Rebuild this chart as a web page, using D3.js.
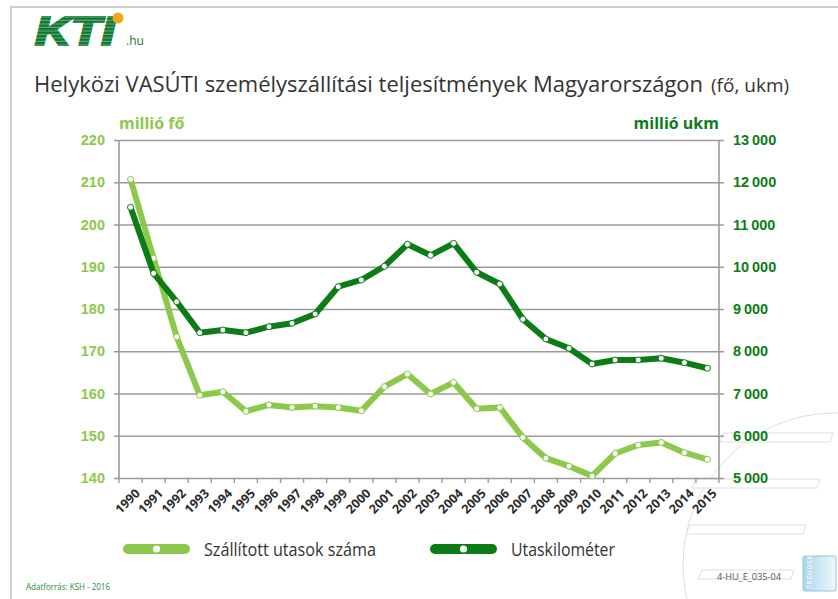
<!DOCTYPE html>
<html lang="hu">
<head>
<meta charset="UTF-8">
<title>Helyközi VASÚTI személyszállítási teljesítmények</title>
<script src="https://d3js.org/d3.v7.min.js"></script>
<style>
  body { margin: 0; background: #fff; }
  svg { display: block; }
</style>
</head>
<body>
<script>
const years = d3.range(1990, 2016).map(String);
// Szállított utasok száma, millió fő (left axis)
const passengers = [210.7, 192.0, 173.4, 159.6, 160.4, 155.8, 157.3, 156.7, 157.0, 156.7,
  155.9, 161.6, 164.6, 159.9, 162.6, 156.4, 156.7, 149.6, 144.7, 142.8,
  140.5, 145.8, 147.8, 148.4, 146.0, 144.4];
// Utaskilométer, millió ukm (right axis)
const passKm = [11407, 9845, 9173, 8440, 8503, 8440, 8581, 8662, 8882, 9528,
  9687, 10011, 10532, 10271, 10555, 9869, 9592, 8757, 8290, 8070,
  7698, 7793, 7793, 7833, 7729, 7597];
const leftTicks = [140, 150, 160, 170, 180, 190, 200, 210, 220];
const rightTicks = [5000, 6000, 7000, 8000, 9000, 10000, 11000, 12000, 13000];

const W = 838, H = 599;
const light = "#8cc84b", dark = "#0c7d16", grid = "#9a9a9a";
const m = {left: 119, right: 719, top: 140, bottom: 478};

const svg = d3.select("body").append("svg")
    .attr("width", W).attr("height", H)
    .style("font-family", "'Open Sans', sans-serif");

// frame
svg.append("path")
    .attr("d", `M11,${H} V7 H${W}`)
    .attr("fill", "none").attr("stroke", "#cfcfcf").attr("stroke-width", 2);

// faint decoration bottom right
const deco = svg.append("g").attr("fill", "none").attr("stroke", "#dedede").attr("stroke-width", 1);
deco.append("circle").attr("cx", 835).attr("cy", 565).attr("r", 152);
[[720, 433, 833], [692, 479, 820], [686, 525, 806], [698, 570, 794]].forEach(([x0, y, x1]) => {
  deco.append("path").attr("d", `M${x0 + 4},${y} H${x1} L${x1 - 3},${y + 9} H${x0} Z`).attr("fill", "#fff");
});

// logo
const defs = svg.append("defs");
const pat = defs.append("pattern").attr("id", "stripes")
    .attr("width", 4).attr("height", 3.5).attr("patternUnits", "userSpaceOnUse");
pat.append("rect").attr("width", 4).attr("height", 3.5).attr("fill", "#127534");
pat.append("rect").attr("y", 2.4).attr("width", 4).attr("height", 1).attr("fill", "#62b37c");
svg.append("text")
    .attr("x", 35).attr("y", 45)
    .attr("font-family", "'Liberation Sans', sans-serif")
    .attr("font-size", 40).attr("font-weight", 900).attr("font-style", "italic")
    .attr("textLength", 80).attr("lengthAdjust", "spacingAndGlyphs")
    .attr("fill", "url(#stripes)").attr("stroke", "url(#stripes)").attr("stroke-width", 2.2)
    .text("KTI");
svg.append("circle").attr("cx", 118).attr("cy", 18).attr("r", 5.5).attr("fill", "#f2a51e");
svg.append("text").attr("x", 126).attr("y", 45)
    .attr("font-size", 12).attr("fill", "#1a7a30").text(".hu");

// title
svg.append("text").attr("x", 34).attr("y", 92).attr("fill", "#333")
    .attr("font-size", 22)
    .text("Helyközi VASÚTI személyszállítási teljesítmények Magyarországon");
svg.append("text").attr("x", 711).attr("y", 92).attr("fill", "#333")
    .attr("font-size", 19)
    .text("(fő, ukm)");

// scales
const x = d3.scaleBand().domain(years).range([m.left, m.right]);
const yL = d3.scaleLinear().domain([140, 220]).range([m.bottom, m.top]);
const yR = d3.scaleLinear().domain([5000, 13000]).range([m.bottom, m.top]);
const cx = d => x(d) + x.bandwidth() / 2;

// gridlines + left axis
const leftAxis = svg.append("g")
    .attr("transform", `translate(${m.left},0)`)
    .call(d3.axisLeft(yL).tickValues(leftTicks).tickSize(-(m.right - m.left)).tickPadding(14));
leftAxis.select(".domain").remove();
leftAxis.selectAll(".tick line")
    .attr("x1", -5).attr("x2", m.right - m.left + 5)
    .attr("stroke", grid).attr("stroke-width", 1.6);
leftAxis.selectAll(".tick text")
    .attr("fill", light).attr("font-size", 14.5).attr("font-weight", 700);

const rightAxis = svg.append("g")
    .attr("transform", `translate(${m.right},0)`)
    .call(d3.axisRight(yR).tickValues(rightTicks).tickSize(0).tickPadding(14)
        .tickFormat(d => d3.format(",")(d).replace(",", "\u2009")));
rightAxis.select(".domain").remove();
rightAxis.selectAll(".tick text")
    .attr("fill", dark).attr("font-size", 14.5).attr("font-weight", 700);

// vertical axis lines
svg.append("line").attr("x1", m.left).attr("x2", m.left).attr("y1", m.top).attr("y2", m.bottom)
    .attr("stroke", grid).attr("stroke-width", 1.6);
svg.append("line").attr("x1", m.right).attr("x2", m.right).attr("y1", m.top).attr("y2", m.bottom)
    .attr("stroke", grid).attr("stroke-width", 1.6);

// x axis ticks at band edges
const edges = years.map(d => x(d)).concat([m.right]);
svg.append("g").selectAll("line").data(edges).join("line")
    .attr("x1", d => d).attr("x2", d => d)
    .attr("y1", m.bottom).attr("y2", m.bottom + 5)
    .attr("stroke", grid).attr("stroke-width", 1.4);

svg.append("g").selectAll("text").data(years).join("text")
    .attr("transform", d => `translate(${cx(d) + 4},${m.bottom + 10}) rotate(-45)`)
    .attr("text-anchor", "end")
    .attr("dy", "0.7em")
    .attr("font-size", 12.5).attr("font-weight", 700).attr("fill", "#2b2b2b")
    .text(d => d);

// axis unit labels
svg.append("text").attr("x", m.left).attr("y", 129)
    .attr("font-size", 16).attr("font-weight", 700).attr("fill", light).text("millió fő");
svg.append("text").attr("x", m.right).attr("y", 129).attr("text-anchor", "end")
    .attr("font-size", 16).attr("font-weight", 700).attr("fill", dark).text("millió ukm");

// series
function drawSeries(values, yScale, color) {
  const pts = years.map((d, i) => [cx(d), yScale(values[i])]);
  svg.append("path")
      .attr("d", d3.line()(pts))
      .attr("fill", "none").attr("stroke", color)
      .attr("stroke-width", 6).attr("stroke-linejoin", "round").attr("stroke-linecap", "round");
  svg.append("g").selectAll("circle").data(pts).join("circle")
      .attr("cx", d => d[0]).attr("cy", d => d[1]).attr("r", 3)
      .attr("fill", "#fff").attr("stroke", color).attr("stroke-width", 1);
}
drawSeries(passengers, yL, light);
drawSeries(passKm, yR, dark);

// legend
const legend = [
  {label: "Szállított utasok száma", color: light, x: 128, w: 172},
  {label: "Utaskilométer", color: dark, x: 435, w: 104}
];
const lg = svg.append("g").selectAll("g").data(legend).join("g")
    .attr("transform", d => `translate(${d.x},549)`);
lg.append("line").attr("x1", 0).attr("x2", 57)
    .attr("stroke", d => d.color).attr("stroke-width", 10).attr("stroke-linecap", "round");
lg.append("circle").attr("cx", 28.5).attr("r", 3.6).attr("fill", "#fff");
lg.append("text").attr("x", 76).attr("y", 7)
    .attr("font-size", 19).attr("fill", "#333")
    .attr("textLength", d => d.w).attr("lengthAdjust", "spacingAndGlyphs")
    .text(d => d.label);

// footer
svg.append("text").attr("x", 26).attr("y", 590)
    .attr("font-size", 8.5).attr("fill", "#1f8a3a")
    .attr("textLength", 84).attr("lengthAdjust", "spacingAndGlyphs")
    .text("Adatforrás: KSH - 2016");
svg.append("text").attr("x", 717).attr("y", 580)
    .attr("font-size", 8.5).attr("fill", "#555")
    .attr("textLength", 64).attr("lengthAdjust", "spacingAndGlyphs")
    .text("4-HU_E_035-04");

// TRENDEK badge
const grad = defs.append("linearGradient").attr("id", "badge").attr("x1", 0).attr("x2", 1);
grad.append("stop").attr("offset", 0).attr("stop-color", "#a9d7ea");
grad.append("stop").attr("offset", 1).attr("stop-color", "#eef8fc");
svg.append("rect").attr("x", 803).attr("y", 556).attr("width", 33).attr("height", 35).attr("rx", 2)
    .attr("fill", "url(#badge)").attr("stroke", "#8cc8e0");
svg.append("text").attr("transform", "translate(812,589) rotate(-90)")
    .attr("font-size", 7).attr("fill", "#fff").attr("letter-spacing", 0.5).text("TRENDEK");
</script>
</body>
</html>
